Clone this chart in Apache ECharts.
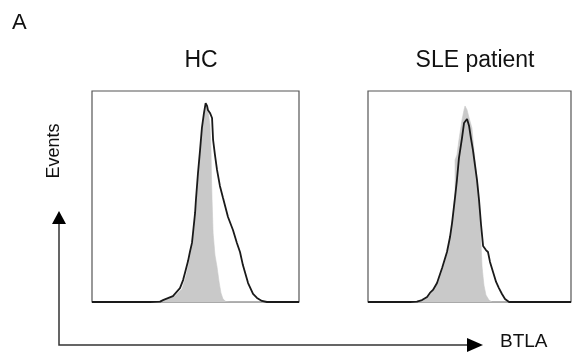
<!DOCTYPE html>
<html>
<head>
<meta charset="utf-8">
<script src="https://cdn.jsdelivr.net/npm/echarts@6/dist/echarts.min.js"></script>
<style>
  html, body { margin: 0; padding: 0; background: #fff; }
  #chart { width: 573px; height: 360px; }
</style>
</head>
<body>
<div id="chart"></div>
<script>
"use strict";

/* ── panel titles ── */
const panelTitles = ["HC", "SLE patient"];

/* ── HC: isotype (grey fill) and BTLA (black line), x = % of axis, y = % of max ── */
const hcIsoX  = [0, 29.0, 35.3, 40.1, 43.5, 45.4, 46.9, 48.3, 49.3, 50.2, 51.2, 52.2, 53.1, 54.1, 55.1, 56.0, 57.0, 57.5, 57.7, 58.0, 58.5, 59.4, 60.4, 61.4, 62.3, 63.3, 64.7, 66.7, 100];
const hcIsoY  = [0, 0, 0.7, 2.8, 6.2, 12.3, 19.0, 26.5, 34.1, 43.6, 57.8, 69.7, 80.6, 88.2, 92.4, 91.0, 83.9, 72.0, 60.2, 48.3, 32.7, 22.3, 16.6, 9.5, 4.3, 1.4, 0.2, 0, 0];
const hcBtlaX = [0, 28.0, 32.9, 34.3, 39.1, 42.5, 44.0, 44.9, 46.4, 47.3, 48.3, 48.8, 49.8, 50.2, 51.2, 52.2, 53.1, 54.1, 54.9, 55.6, 56.0, 57.0, 58.0, 58.5, 59.4, 60.4, 61.8, 63.3, 65.7, 68.1, 70.0, 71.5, 72.9, 75.4, 77.8, 79.7, 82.1, 84.5, 100];
const hcBtlaY = [0, 0, 0.2, 0.9, 2.8, 6.6, 10.4, 13.7, 19.4, 23.7, 28.0, 32.7, 42.2, 48.3, 61.1, 72.0, 82.5, 89.6, 94.2, 92.9, 91.0, 89.6, 87.2, 76.8, 69.7, 62.6, 55.0, 49.3, 40.3, 34.1, 28.0, 23.7, 17.5, 9.0, 3.8, 1.9, 0.5, 0, 0];

/* ── SLE patient ── */
const sleIsoX  = [0, 21.7, 25.6, 29.6, 32.5, 35.0, 37.4, 39.4, 40.9, 41.9, 42.9, 42.9, 43.8, 44.8, 46.3, 47.3, 47.8, 48.8, 49.8, 51.2, 52.2, 53.7, 54.7, 55.2, 55.7, 56.2, 57.1, 58.1, 59.6, 61.1, 100];
const sleIsoY  = [0, 0, 0.5, 2.4, 5.7, 10.4, 17.5, 24.6, 33.2, 41.2, 52.1, 67.3, 69.7, 76.8, 86.3, 91.0, 92.9, 91.0, 87.2, 82.5, 72.0, 58.8, 48.3, 38.9, 27.0, 16.6, 8.1, 3.3, 0.9, 0, 0];
const sleBtlaX = [0, 20.7, 24.1, 26.6, 29.1, 30.5, 32.0, 34.0, 36.5, 38.9, 40.4, 41.4, 42.9, 43.8, 44.8, 46.3, 47.3, 47.8, 48.8, 49.8, 50.7, 51.7, 52.7, 53.7, 54.7, 55.7, 56.7, 58.1, 59.1, 60.1, 61.6, 63.1, 64.5, 66.0, 67.5, 69.5, 100];
const sleBtlaY = [0, 0, 0.2, 0.9, 2.4, 4.3, 5.7, 9.0, 16.1, 23.7, 30.8, 37.4, 49.8, 57.8, 68.2, 77.7, 84.8, 85.3, 86.7, 83.4, 77.7, 72.0, 64.9, 57.8, 48.3, 36.5, 26.5, 24.6, 23.7, 19.0, 14.2, 9.5, 6.6, 3.8, 1.4, 0, 0];

const zip = (xs, ys) => xs.map((x, i) => [x, ys[i]]);

const FONT = "Liberation Sans, Arial, sans-serif";
const GREY = "#c9c9c9";
const INK  = "#1a1a1a";

const grids = [
  { left: 92,  top: 91, width: 207, height: 211 },
  { left: 368, top: 91, width: 203, height: 211 }
];

function hiddenAxis(idx) {
  return {
    type: "value", gridIndex: idx, min: 0, max: 100,
    axisLine: { show: false }, axisTick: { show: false },
    axisLabel: { show: false }, splitLine: { show: false }
  };
}

function fillSeries(idx, data) {
  return {
    type: "line", xAxisIndex: idx, yAxisIndex: idx, data,
    symbol: "none", silent: true, z: 1,
    lineStyle: { width: 0.6, color: GREY },
    areaStyle: { color: GREY, opacity: 1 }
  };
}

function lineSeries(idx, data) {
  return {
    type: "line", xAxisIndex: idx, yAxisIndex: idx, data,
    symbol: "none", silent: true, z: 3,
    lineStyle: { width: 1.8, color: INK }
  };
}

const chart = echarts.init(document.getElementById("chart"));

chart.setOption({
  backgroundColor: "#fff",
  animation: false,
  title: [
    { text: "A", left: 7, top: 7, textStyle: { fontFamily: FONT, fontSize: 22, fontWeight: "normal", color: "#111" } },
    { text: panelTitles[0], left: 196, top: 44, textAlign: "center", textStyle: { fontFamily: FONT, fontSize: 23, fontWeight: "normal", color: "#111" } },
    { text: panelTitles[1], left: 470, top: 44, textAlign: "center", textStyle: { fontFamily: FONT, fontSize: 23, fontWeight: "normal", color: "#111" } }
  ],
  grid: grids.map(g => ({ ...g, show: true, borderColor: "#555", borderWidth: 1.2, backgroundColor: "transparent" })),
  xAxis: [hiddenAxis(0), hiddenAxis(1)],
  yAxis: [hiddenAxis(0), hiddenAxis(1)],
  series: [
    fillSeries(0, zip(hcIsoX, hcIsoY)),
    lineSeries(0, zip(hcBtlaX, hcBtlaY)),
    fillSeries(1, zip(sleIsoX, sleIsoY)),
    lineSeries(1, zip(sleBtlaX, sleBtlaY))
  ],
  graphic: [
    // 坐标示意箭头
    { type: "polyline", shape: { points: [[59, 222], [59, 345], [470, 345]] }, style: { stroke: "#333", lineWidth: 1.5, fill: null } },
    { type: "polygon", shape: { points: [[59, 211], [52, 224], [66, 224]] }, style: { fill: "#000" } },
    { type: "polygon", shape: { points: [[483, 345], [467, 338], [467, 352]] }, style: { fill: "#000" } },
    { type: "text", x: 54, y: 151, rotation: Math.PI / 2,
      style: { text: "Events", fontFamily: FONT, fontSize: 18, fill: "#111", align: "center", verticalAlign: "middle" } },
    { type: "text", x: 500, y: 342,
      style: { text: "BTLA", fontFamily: FONT, fontSize: 19, fill: "#111", align: "left", verticalAlign: "middle" } }
  ]
});
</script>
</body>
</html>
